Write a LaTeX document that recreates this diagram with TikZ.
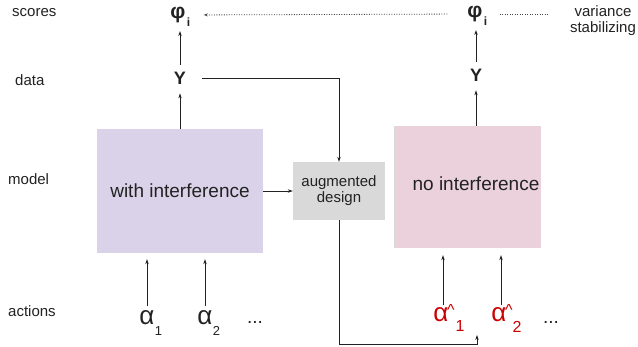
\documentclass[tikz,border=0pt]{standalone}
\usepackage{fontspec}
\setmainfont{Liberation Sans}
\usetikzlibrary{arrows.meta}
\definecolor{lav}{HTML}{D9D2E9}
\definecolor{pinkbox}{HTML}{EAD1DC}
\definecolor{graybox}{HTML}{D9D9D9}
\definecolor{redtxt}{HTML}{CC0000}
\definecolor{ink}{HTML}{222222}
\begin{document}
\begin{tikzpicture}[x=1pt,y=-1pt,
  txt/.style={inner sep=0pt, text=ink, font=\fontsize{15}{16.5}\selectfont},
  big/.style={inner sep=0pt, text=ink, font=\fontsize{18}{18}\selectfont\bfseries},
  phi/.style={inner sep=0pt, text=ink, font=\fontsize{21}{21}\selectfont\bfseries},
  isub/.style={inner sep=0pt, text=ink, font=\fontsize{12}{12}\selectfont\bfseries},
  sym/.style={inner sep=0pt, text=ink, font=\fontsize{26}{26}\selectfont},
  subs/.style={inner sep=0pt, text=ink, font=\fontsize{13}{13}\selectfont},
  rsym/.style={sym, text=redtxt},
  rsub/.style={inner sep=0pt, text=redtxt, font=\fontsize{16}{16}\selectfont},
  rcar/.style={inner sep=0pt, text=redtxt, font=\fontsize{16}{16}\selectfont},
  boxx/.style={inner sep=0pt, draw=none, text=ink},
  arr/.style={-{Stealth[length=5pt,width=3.4pt]}, line width=0.7pt, draw=ink},
  dots/.style={line width=0.8pt, draw=ink!85, dash pattern=on 1pt off 1.5pt}
]
\useasboundingbox[fill=white] (0,0) rectangle (638,346);

% row labels
\node[txt, anchor=west] (lscores) at (12,13) {scores};
\node[txt, anchor=west] (ldata) at (15,80) {data};
\node[txt, anchor=west] (lmodel) at (8,179) {model};
\node[txt, anchor=west] (lactions) at (8,311) {actions};

% boxes
\node[boxx, fill=lav, minimum width=166pt, minimum height=124pt,
      font=\fontsize{19}{22}\selectfont] (withI) at (180,191) {with interference};
\node[boxx, fill=pinkbox, minimum width=147pt, minimum height=122pt] (noI) at (467.5,187) {};
\draw[draw=black!15, line width=0.5pt] (noI.north west) -- (noI.south west);
\node[inner sep=0pt, text=ink, font=\fontsize{19}{22}\selectfont] (noItxt) at (476,184) {no interference};
\node[boxx, fill=graybox, minimum width=92pt, minimum height=58pt, align=center,
      font=\fontsize{15}{16}\selectfont] (aug) at (339,191) {augmented\\design};

% data and scores
\node[big] (YL) at (180,78) {Y};
\node[phi] (phiL) at (178,15) {φ};
\node[isub] (iL) at (188.5,22) {i};
\node[big] (YR) at (476,75) {Y};
\node[phi] (phiR) at (475,14) {φ};
\node[isub] (iR) at (485.5,21) {i};

\node[txt, align=center, font=\fontsize{15}{16}\selectfont] (vs) at (603,21) {variance\\stabilizing};

% actions left
\node[sym] (a1) at (147,318) {α};
\node[subs] (s1) at (158.5,331) {1};
\node[sym] (a2) at (205,318) {α};
\node[subs] (s2) at (216.5,331) {2};
\node[sym, font=\fontsize{19}{19}\selectfont] (dl) at (255,322) {...};

% actions right
\node[rsym] (h1) at (441,315) {α};
\node[rcar] (c1) at (451,310) {\textasciicircum};
\node[rsub] (t1) at (460,326) {1};
\node[rsym] (h2) at (499,315) {α};
\node[rcar] (c2) at (509,310) {\textasciicircum};
\node[rsub] (t2) at (517,327) {2};
\node[sym, font=\fontsize{19}{19}\selectfont] (dr) at (551,322) {...};

% vertical arrows, left column
\draw[arr, shorten >=9pt] (withI.north) -- (YL.south);
\draw[arr, shorten <=7pt, shorten >=8pt] (YL.north) -- (YL.north |- phiL.south);
% right column
\draw[arr, shorten >=9pt] (YR.south |- noI.north) -- (YR.south);
\draw[arr, shorten <=7pt, shorten >=8pt] (YR.north) -- (YR.north |- phiR.south);

% dotted scores link
\draw[dots, -{Stealth[length=4pt,width=2.8pt]}, shorten <=20pt, shorten >=18pt] (phiR.west) -- (phiL.east);
\coordinate (dotEnd) at (548,14);
\draw[dots, shorten <=17pt] (phiR.east) -- (dotEnd);

% data to augmented design
\draw[arr, shorten <=16pt] (YL.east) -| (aug.north);
% model to augmented design
\draw[arr] (withI.east) -- (aug.west);
% augmented design to new actions
\coordinate (corner) at (339,344.5);
\coordinate (augTip) at (477,335);
\draw[arr] (aug.south) -- (corner) -| (augTip);

% action arrows
\draw[arr, shorten <=5pt, shorten >=6pt] (a1.north) -- (a1.north |- withI.south);
\draw[arr, shorten <=5pt, shorten >=6pt] (a2.north) -- (a2.north |- withI.south);
\draw[arr, shorten <=3pt, shorten >=7pt] ([xshift=2pt]h1.north) -- ([xshift=2pt]h1.north |- noI.south);
\draw[arr, shorten <=3pt, shorten >=7pt] ([xshift=2pt]h2.north) -- ([xshift=2pt]h2.north |- noI.south);
\end{tikzpicture}
\end{document}
